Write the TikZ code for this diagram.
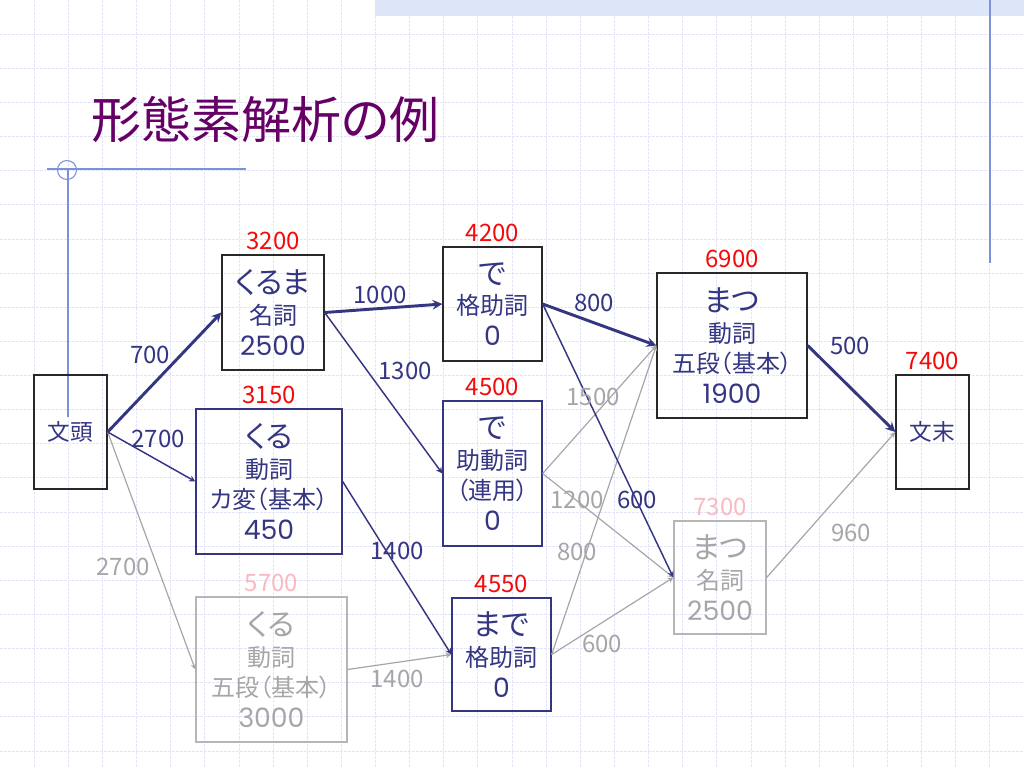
\documentclass[tikz,border=0pt]{standalone}
\usepackage{fontspec}
\setmainfont{Noto Sans CJK JP}[RawFeature=+palt]
\newfontfamily\numfont{Poppins}
\usetikzlibrary{positioning}

\definecolor{navy}{RGB}{52,54,130}
\definecolor{boxblack}{RGB}{40,40,40}
\definecolor{softgray}{RGB}{166,166,166}
\definecolor{boxgray}{RGB}{182,182,182}
\definecolor{costred}{RGB}{245,10,10}
\definecolor{costpink}{RGB}{250,185,192}
\definecolor{titlepurple}{RGB}{102,0,102}
\definecolor{gridblue}{RGB}{228,230,246}
\definecolor{bandblue}{RGB}{221,230,248}
\definecolor{ornblue}{RGB}{125,145,215}

\newcommand\kanafs{\fontsize{22.5pt}{27pt}\selectfont}
\newcommand\posfs{\fontsize{18pt}{23pt}\selectfont}
\newcommand\numfs{\numfont\fontsize{20pt}{23pt}\selectfont}
\newcommand\labfs{\fontsize{18pt}{22pt}\selectfont}

\begin{document}
\begin{tikzpicture}[%
	x=0.75pt, y=-0.75pt,
	>=stealth,
	node distance=2pt,
	box/.style={draw=boxblack, line width=1pt, inner sep=0pt, align=center, text=navy, font=\posfs},
	nbox/.style={box, draw=navy},
	gbox/.style={box, draw=boxgray, text=softgray},
	sz/.style 2 args={minimum width=#1*0.75pt, minimum height=#2*0.75pt},
	cost/.style={text=costred, font=\labfs, inner sep=0pt},
	gcost/.style={cost, text=costpink},
	lab/.style={text=navy, font=\labfs, inner sep=0pt},
	glab/.style={lab, text=softgray},
	best/.style={draw=navy, line width=2.2pt, ->},
	cand/.style={draw=navy, line width=1.1pt, ->},
	weak/.style={draw=softgray, line width=0.9pt, ->},
	gridline/.style={draw=gridblue, line width=0.6pt, dash pattern=on 2pt off 1pt}
]

\useasboundingbox (0,0) rectangle (1024,768);

% background
\foreach \i in {1,...,29} \draw[gridline] (\i*34.133,0) -- (\i*34.133,768);
\foreach \j in {1,...,22} \draw[gridline] (0,\j*34.133) -- (1024,\j*34.133);
\fill[bandblue] (375,0) rectangle (1024,16);
\draw[ornblue, line width=0.8pt] (990,0) -- (990,263);
\draw[ornblue, line width=0.8pt] (47,169) -- (246,169);
\draw[ornblue, line width=0.8pt] (67,170) circle[radius=9.5];
\draw[ornblue, line width=0.8pt] (68,170) -- (68,417);

\node[text=titlepurple, font=\fontsize{37.5pt}{40pt}\selectfont, anchor=west, inner sep=0pt] (title) at (91,120) {形態素解析の例};

% lattice
\node[box, sz={73}{114}] (bos) at (70.5,432) {\fontsize{17pt}{20pt}\selectfont 文頭};
\node[box, sz={102}{115}] (kuruma) at (273,312.5) {\kanafs くるま\\ \posfs 名詞\\ \numfs 2500};
\node[nbox, sz={146}{145}] (kuruK) at (269,481.5) {\kanafs くる\\ \posfs 動詞\\ \posfs カ変（基本）\\ \numfs 450};
\node[gbox, sz={151}{145}] (kuruG) at (271.5,669.5) {\kanafs くる\\ \posfs 動詞\\ \posfs 五段（基本）\\ \numfs 3000};
\node[box, sz={99}{114}] (deK) at (492.5,304) {\kanafs で\\ \posfs 格助詞\\ \numfs 0};
\node[nbox, sz={99}{145}] (deJ) at (492.5,473.5) {\kanafs で\\ \posfs 助動詞\\ \posfs （連用）\\ \numfs 0};
\node[nbox, sz={99}{113}] (made) at (501.5,654.5) {\kanafs まで\\ \posfs 格助詞\\ \numfs 0};
\node[box, sz={150}{145}] (matuV) at (732,345.5) {\kanafs まつ\\ \posfs 動詞\\ \posfs 五段（基本）\\ \numfs 1900};
\node[gbox, sz={92}{113}] (matuN) at (720,577.5) {\kanafs まつ\\ \posfs 名詞\\ \numfs 2500};
\node[box, sz={73}{114}] (eos) at (932.5,432) {\fontsize{17pt}{20pt}\selectfont 文末};

\node[cost] (c3200) [above=3pt of kuruma] {3200};
\node[cost] (c3150) [above=3pt of kuruK] {3150};
\node[gcost] (c5700) [above=3pt of kuruG] {5700};
\node[cost] (c4200) [above=3pt of deK] {4200};
\node[cost] (c4500) [above=3pt of deJ] {4500};
\node[cost] (c4550) [above=3pt of made] {4550};
\node[cost] (c6900) [above=3pt of matuV] {6900};
\node[gcost] (c7300) [above=3pt of matuN] {7300};
\node[cost] (c7400) [above=3pt of eos] {7400};

\path[weak] (bos.east) -- (kuruG.west);
\path[weak] (kuruG.east) -- (made.west);
\path[weak] (deJ.east) -- (matuV.west);
\path[weak] (deJ.east) -- (matuN.west);
\path[weak] (made.east) -- (matuV.west);
\path[weak] (made.east) -- (matuN.west);
\path[weak] (matuN.east) -- (eos.west);

\path[cand] (bos.east) -- (kuruK.west);
\path[cand] (kuruma.east) -- (deJ.west);
\path[cand] (kuruK.east) -- (made.west);
\path[cand] (deK.east) -- (matuN.west);

\path[best] (bos.east) -- (kuruma.west);
\path[best] (kuruma.east) -- (deK.west);
\path[best] (deK.east) -- (matuV.west);
\path[best] (matuV.east) -- (eos.west);

\node[lab] (l700) at (150,355) {700};
\node[lab] (l2700a) at (158,439) {2700};
\node[glab] (l2700b) at (123,567) {2700};
\node[lab] (l1000) at (380,295) {1000};
\node[lab] (l1300) at (405,371) {1300};
\node[lab] (l1400a) at (397,551) {1400};
\node[glab] (l1400b) at (397,679) {1400};
\node[lab] (l800a) at (594,303) {800};
\node[glab] (l1500) at (593,397) {1500};
\node[glab] (l1200) at (577,500) {1200};
\node[lab] (l600a) at (637,500) {600};
\node[glab] (l800b) at (577,552) {800};
\node[glab] (l600b) at (602,644) {600};
\node[lab] (l500) at (850,346) {500};
\node[glab] (l960) at (851,533) {960};

\end{tikzpicture}
\end{document}
